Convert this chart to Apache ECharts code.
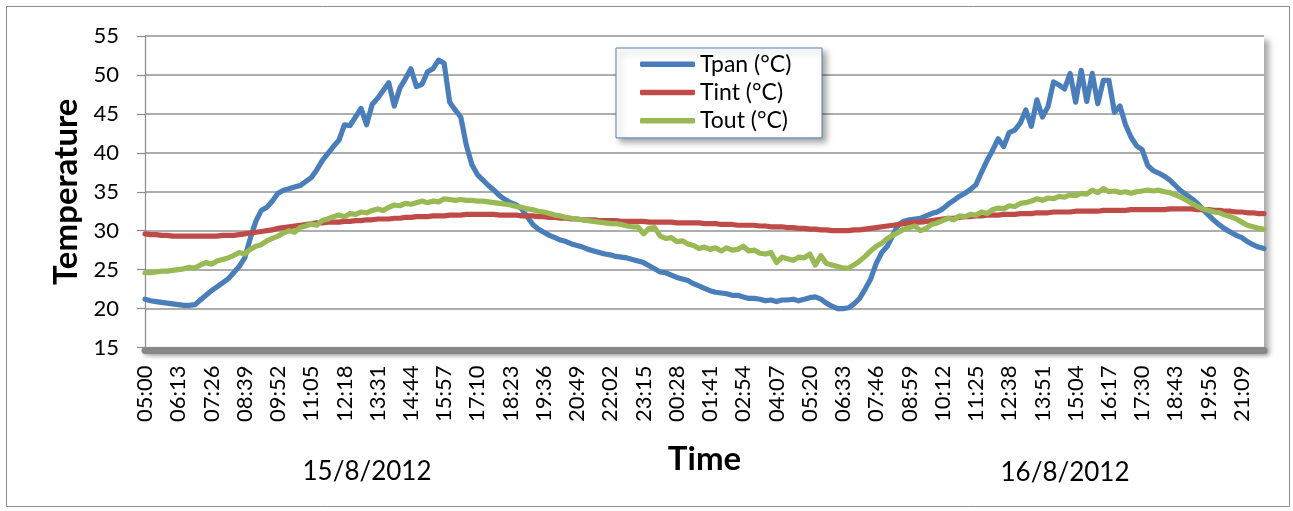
<!DOCTYPE html>
<html>
<head>
<meta charset="utf-8">
<script src="https://cdn.jsdelivr.net/npm/echarts@6/dist/echarts.min.js"></script>
<style>
  html, body { margin: 0; padding: 0; background: #fff; }
  #chart { width: 1293px; height: 511px; }
</style>
</head>
<body>
<div id="chart"></div>
<script>
// Time ticks, one every 73 minutes, from 05:00 on 15/8 to 21:09 on 16/8
const TICK_LABELS = ['05:00','06:13','07:26','08:39','09:52','11:05','12:18','13:31','14:44','15:57',
  '17:10','18:23','19:36','20:49','22:02','23:15','00:28','01:41','02:54','04:07','05:20','06:33',
  '07:46','08:59','10:12','11:25','12:38','13:51','15:04','16:17','17:30','18:43','19:56','21:09'];
const SAMPLES_PER_TICK = 6;
const DATES = ['15/8/2012', '16/8/2012'];

// Panel temperature (°C)
const TPAN = [
  21.2, 21.0, 20.9, 20.8, 20.7, 20.6, 20.5, 20.4, 20.4, 20.5,
  21.1, 21.7, 22.3, 22.8, 23.3, 23.8, 24.6, 25.4, 26.5, 29.0,
  31.2, 32.6, 33.0, 33.8, 34.8, 35.2, 35.4, 35.6, 35.8, 36.3,
  36.8, 37.8, 39.0, 39.9, 40.8, 41.6, 43.6, 43.5, 44.6, 45.7,
  43.6, 46.2, 47.0, 48.0, 49.0, 46.0, 48.3, 49.5, 50.8, 48.5,
  48.8, 50.4, 50.8, 51.9, 51.5, 46.5, 45.5, 44.6, 41.0, 38.5,
  37.2, 36.5, 35.8, 35.2, 34.5, 34.0, 33.6, 33.3, 32.8, 31.8,
  30.8, 30.2, 29.8, 29.4, 29.1, 28.8, 28.6, 28.3, 28.1, 27.9,
  27.6, 27.4, 27.2, 27.0, 26.9, 26.7, 26.6, 26.5, 26.3, 26.1,
  25.9, 25.5, 25.1, 24.7, 24.6, 24.3, 24.0, 23.8, 23.6, 23.2,
  22.9, 22.6, 22.3, 22.1, 22.0, 21.9, 21.7, 21.7, 21.5, 21.3,
  21.3, 21.2, 21.0, 21.1, 20.9, 21.1, 21.1, 21.2, 21.0, 21.2,
  21.4, 21.5, 21.2, 20.7, 20.3, 20.0, 20.0, 20.1, 20.6, 21.3,
  22.5, 23.8, 25.8, 27.2, 28.0, 29.4, 30.8, 31.2, 31.4, 31.5,
  31.6, 31.9, 32.2, 32.4, 32.8, 33.4, 33.9, 34.4, 34.8, 35.3,
  35.9, 37.5, 39.0, 40.3, 41.8, 40.8, 42.6, 42.9, 43.8, 45.5,
  43.4, 46.8, 44.6, 45.9, 49.1, 48.7, 48.2, 50.2, 46.5, 50.6,
  46.6, 50.2, 46.3, 49.3, 49.3, 45.2, 46.0, 43.6, 42.0, 40.9,
  40.4, 38.4, 37.7, 37.4, 37.0, 36.5, 35.8, 35.1, 34.6, 34.1,
  33.5, 32.7, 32.0, 31.3, 30.7, 30.2, 29.8, 29.4, 29.1, 28.6,
  28.2, 27.9, 27.7
];

// Indoor temperature (°C)
const TINT = [
  29.6, 29.5, 29.5, 29.4, 29.4, 29.3, 29.3, 29.3, 29.3, 29.3,
  29.3, 29.3, 29.3, 29.3, 29.4, 29.4, 29.4, 29.5, 29.6, 29.7,
  29.8, 29.9, 30.0, 30.1, 30.3, 30.4, 30.5, 30.6, 30.7, 30.8,
  30.9, 31.0, 31.0, 31.1, 31.1, 31.1, 31.2, 31.2, 31.3, 31.3,
  31.4, 31.4, 31.5, 31.5, 31.5, 31.6, 31.6, 31.7, 31.7, 31.8,
  31.8, 31.8, 31.9, 31.9, 31.9, 32.0, 32.0, 32.0, 32.1, 32.1,
  32.1, 32.1, 32.1, 32.1, 32.0, 32.0, 32.0, 32.0, 31.9, 31.9,
  31.9, 31.8, 31.8, 31.7, 31.7, 31.6, 31.6, 31.5, 31.5, 31.4,
  31.4, 31.4, 31.3, 31.3, 31.3, 31.3, 31.2, 31.2, 31.2, 31.2,
  31.2, 31.1, 31.1, 31.1, 31.1, 31.1, 31.0, 31.0, 31.0, 31.0,
  31.0, 30.9, 30.9, 30.9, 30.8, 30.8, 30.8, 30.7, 30.7, 30.7,
  30.7, 30.6, 30.6, 30.5, 30.5, 30.5, 30.4, 30.4, 30.3, 30.3,
  30.2, 30.2, 30.1, 30.1, 30.0, 30.0, 30.0, 30.0, 30.1, 30.1,
  30.2, 30.3, 30.4, 30.5, 30.6, 30.7, 30.8, 30.9, 31.0, 31.1,
  31.1, 31.2, 31.3, 31.4, 31.5, 31.6, 31.6, 31.7, 31.8, 31.8,
  31.9, 31.9, 32.0, 32.0, 32.0, 32.1, 32.1, 32.1, 32.2, 32.2,
  32.2, 32.3, 32.3, 32.3, 32.4, 32.4, 32.4, 32.4, 32.5, 32.5,
  32.5, 32.5, 32.5, 32.6, 32.6, 32.6, 32.6, 32.6, 32.7, 32.7,
  32.7, 32.7, 32.7, 32.7, 32.7, 32.8, 32.8, 32.8, 32.8, 32.8,
  32.7, 32.7, 32.7, 32.6, 32.6, 32.5, 32.5, 32.4, 32.4, 32.3,
  32.3, 32.2, 32.2
];

// Outdoor temperature (°C)
const TOUT = [
  24.6, 24.6, 24.7, 24.8, 24.8, 24.9, 25.0, 25.1, 25.3, 25.2,
  25.6, 25.9, 25.7, 26.1, 26.3, 26.5, 26.8, 27.2, 27.0, 27.6,
  28.0, 28.2, 28.7, 29.0, 29.3, 29.7, 30.0, 29.8, 30.4, 30.6,
  30.9, 30.7, 31.3, 31.5, 31.8, 32.0, 31.8, 32.2, 32.1, 32.4,
  32.3, 32.6, 32.8, 32.6, 33.0, 33.3, 33.2, 33.5, 33.4, 33.6,
  33.8, 33.6, 33.8, 33.7, 34.1, 34.0, 33.9, 34.0, 33.9, 33.9,
  33.8, 33.8, 33.7, 33.6, 33.5, 33.4, 33.3, 33.1, 33.0, 32.8,
  32.7, 32.5, 32.4, 32.2, 32.0, 31.9, 31.7, 31.6, 31.5, 31.4,
  31.3, 31.2, 31.1, 31.0, 30.9, 30.9, 30.8, 30.6, 30.5, 30.5,
  29.6, 30.3, 30.4, 29.3, 29.0, 29.1, 28.6, 28.7, 28.3, 28.1,
  27.7, 27.9, 27.6, 27.8, 27.4, 27.8, 27.5, 27.6, 28.0, 27.4,
  27.5, 27.1, 27.0, 27.2, 25.9, 26.6, 26.4, 26.2, 26.6, 26.5,
  27.0, 25.6, 26.8, 25.8, 25.6, 25.4, 25.2, 25.2, 25.6, 26.1,
  26.7, 27.4, 28.0, 28.4, 29.0, 29.4, 29.8, 30.2, 30.4, 30.6,
  30.0, 30.3, 30.8, 31.0, 31.3, 31.6, 31.4, 31.9, 31.8, 32.1,
  32.0, 32.4, 32.2, 32.7, 32.9, 32.8, 33.2, 33.1, 33.5, 33.6,
  33.8, 34.1, 33.9, 34.2, 34.1, 34.4, 34.3, 34.6, 34.5, 34.8,
  34.7, 35.2, 34.9, 35.4, 35.0, 35.1, 34.9, 35.0, 34.8, 35.0,
  35.1, 35.2, 35.1, 35.2, 35.0, 34.9, 34.6, 34.3, 33.9, 33.5,
  33.1, 32.8, 32.6, 32.4, 32.3, 32.0, 31.8, 31.5, 31.1, 30.7,
  30.5, 30.3, 30.2
];

const SERIES_NAMES = ['Tpan (°C)', 'Tint (°C)', 'Tout (°C)'];
const COLORS = ['#4a7ebb', '#be4b48', '#98b954'];

// One category per sample; only every SAMPLES_PER_TICK-th carries a time label
const categories = TPAN.map((_, i) =>
  i % SAMPLES_PER_TICK === 0 && TICK_LABELS[i / SAMPLES_PER_TICK] !== undefined
    ? TICK_LABELS[i / SAMPLES_PER_TICK] : '');

const FONT = 'Lato';

const chart = echarts.init(document.getElementById('chart'), null, { renderer: 'canvas' });

const makeSeries = (name, data, color) => ({
  name: name,
  type: 'line',
  data: data,
  symbol: 'none',
  smooth: false,
  lineStyle: { color: color, width: 5.2, cap: 'round', join: 'round' },
  itemStyle: { color: color },
  animation: false,
  z: 3
});

chart.setOption({
  animation: false,
  backgroundColor: '#ffffff',
  grid: {
    left: 145, top: 36, right: 29, bottom: 163.5,
    show: true,
    backgroundColor: '#ffffff',
    borderWidth: 0,
    shadowColor: 'rgba(0,0,0,0.35)',
    shadowBlur: 6,
    shadowOffsetX: 5,
    shadowOffsetY: 4
  },
  legend: {
    orient: 'vertical',
    left: 616, top: 48,
    padding: [2, 22, 3, 24],
    itemGap: 0,
    itemWidth: 55,
    itemHeight: 5.5,
    icon: 'roundRect',
    backgroundColor: '#ffffff',
    borderColor: '#4f81bd',
    borderWidth: 1,
    borderRadius: 0,
    shadowColor: 'rgba(0,0,0,0.35)',
    shadowBlur: 6,
    shadowOffsetX: 4,
    shadowOffsetY: 4,
    textStyle: { fontFamily: FONT, fontSize: 23, color: '#000', lineHeight: 28.3, height: 28.3, width: 100 },
    data: SERIES_NAMES
  },
  xAxis: {
    type: 'category',
    data: categories,
    boundaryGap: false,
    offset: 3,
    name: 'Time',
    nameLocation: 'middle',
    nameGap: 92,
    nameTextStyle: { fontFamily: FONT, fontSize: 33, fontWeight: 'bold', color: '#000' },
    axisLine: {
      lineStyle: {
        color: '#878787', width: 7,
        shadowColor: 'rgba(0,0,0,0.3)', shadowBlur: 4, shadowOffsetY: 2, shadowOffsetX: 2
      }
    },
    axisTick: { show: false },
    axisLabel: {
      interval: 0, rotate: 90, margin: 15,
      fontFamily: FONT, fontSize: 22, color: '#000'
    },
    splitLine: { show: false }
  },
  yAxis: {
    type: 'value',
    min: 15, max: 55, interval: 5,
    name: 'Temperature',
    nameLocation: 'middle',
    nameGap: 60,
    nameTextStyle: { fontFamily: FONT, fontSize: 33, fontWeight: 'bold', color: '#000' },
    axisLine: { show: true, lineStyle: { color: '#8c8c8c', width: 1.2 } },
    axisTick: { show: true, length: 8, lineStyle: { color: '#8c8c8c', width: 1.2 } },
    axisLabel: { margin: 26, fontFamily: FONT, fontSize: 22, color: '#000' },
    splitLine: { lineStyle: { color: '#929292', width: 1.6 } }
  },
  graphic: [
    {
      type: 'rect', silent: true, z: -1,
      shape: { x: 6.5, y: 6.5, width: 1283, height: 500 },
      style: { fill: 'none', stroke: '#8c8c8c', lineWidth: 1 }
    },
    {
      type: 'text', silent: true,
      x: 367, y: 472,
      style: { text: DATES[0], font: '26px Lato', fill: '#000', align: 'center', verticalAlign: 'middle' }
    },
    {
      type: 'text', silent: true,
      x: 1065, y: 473,
      style: { text: DATES[1], font: '26px Lato', fill: '#000', align: 'center', verticalAlign: 'middle' }
    }
  ],
  series: [
    makeSeries(SERIES_NAMES[0], TPAN, COLORS[0]),
    makeSeries(SERIES_NAMES[1], TINT, COLORS[1]),
    makeSeries(SERIES_NAMES[2], TOUT, COLORS[2])
  ]
});
</script>
</body>
</html>
